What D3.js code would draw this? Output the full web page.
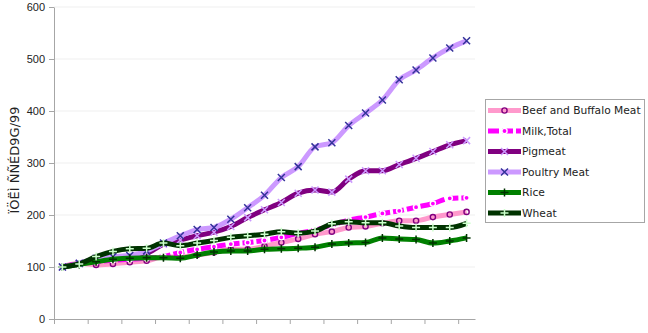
<!DOCTYPE html>
<html>
<head>
<meta charset="utf-8">
<script src="https://cdn.jsdelivr.net/npm/d3@7"></script>
<style>
  body { margin: 0; background: #fff; }
  svg { display: block; font-family: 'DejaVu Sans', sans-serif; }
  .axis path, .axis line { stroke: #a6a6a6; }
  .axis text { fill: #222; font-size: 11px; }
</style>
</head>
<body>
<script>
const width = 648;
const height = 333;

const categories = d3.range(1, 26);
const yTicks = [0, 100, 200, 300, 400, 500, 600];

const beef = [100, 107, 104, 106, 109, 112, 119, 119, 123, 128, 134, 134, 140, 147, 154, 163, 168, 176, 178, 184, 189, 189, 196, 201, 206];
const milk = [100, 107, 110, 113, 115, 117, 120, 128, 134, 139, 144, 147, 151, 157, 165, 171, 181, 190, 196, 203, 208, 215, 222, 232, 233];
const pigmeat = [100, 107, 115, 117, 118, 126, 144, 152, 160, 167, 178, 195, 210, 224, 242, 248, 244, 269, 285, 285, 297, 309, 322, 335, 343];
const poultry = [100, 107, 117, 120, 122, 131, 146, 160, 172, 176, 192, 214, 238, 272, 293, 331, 339, 372, 396, 421, 460, 479, 502, 521, 535];
const rice = [100, 105, 110, 115, 117, 118, 118, 117, 123, 129, 131, 131, 134, 135, 136, 138, 144, 146, 147, 156, 154, 153, 146, 150, 156];
const wheat = [100, 106, 120, 130, 135, 136, 146, 141, 146, 151, 157, 160, 163, 168, 165, 169, 183, 187, 185, 185, 179, 176, 176, 176, 184];

const series = [
  { name: 'Beef and Buffalo Meat', values: beef, line: '#ff99cc', dash: null, marker: 'circle', mfill: 'none', mstroke: '#800080' },
  { name: 'Milk,Total', values: milk, line: '#ff00ff', dash: '11,3', marker: 'circle', mfill: '#ff00ff', mstroke: '#ffffff' },
  { name: 'Pigmeat', values: pigmeat, line: '#800080', dash: null, marker: 'x', mstroke: '#cc99ff' },
  { name: 'Poultry Meat', values: poultry, line: '#cc99ff', dash: null, marker: 'x', mstroke: '#333399' },
  { name: 'Rice', values: rice, line: '#008000', dash: null, marker: 'plus', mstroke: '#003300' },
  { name: 'Wheat', values: wheat, line: '#003300', dash: null, marker: 'plus', mstroke: '#ccffcc' },
];

const svg = d3.select('body')
  .append('svg')
    .attr('width', width)
    .attr('height', height);

const x = d3.scaleBand()
  .domain(categories)
  .range([54, 475])
  .padding(0);

const xIdx = d3.scaleLinear()
  .domain([0, categories.length])
  .range([54, 475]);

const y = d3.scaleLinear()
  .domain([0, 600])
  .range([319, 7]);

const cx = (i) => x(categories[i]) + x.bandwidth() / 2;

// grid
svg.append('g')
  .selectAll('line')
  .data(yTicks.slice(1))
  .join('line')
    .attr('x1', 54)
    .attr('x2', 475)
    .attr('y1', (d) => y(d))
    .attr('y2', (d) => y(d))
    .attr('stroke', '#efefef');

svg.append('g')
  .attr('class', 'axis')
  .attr('transform', 'translate(54,0)')
  .call(d3.axisLeft(y).tickValues(yTicks).tickSize(5).tickPadding(4).tickSizeOuter(0));

svg.append('g')
  .attr('class', 'axis')
  .attr('transform', 'translate(0,319)')
  .call(d3.axisBottom(xIdx).tickValues(d3.range(0, 25, 2)).tickSize(5).tickFormat('').tickSizeOuter(0));

svg.append('text')
  .attr('transform', 'translate(19,160) rotate(-90)')
  .attr('text-anchor', 'middle')
  .attr('font-size', 13)
  .attr('fill', '#222')
  .text('ÏÖËÌ ÑÑÉD9G/99');

const drawMarker = (g, s, px, py) => {
  if (s.marker === 'circle') {
    g.append('circle')
      .attr('cx', px).attr('cy', py).attr('r', 2.6)
      .attr('fill', s.mfill)
      .attr('stroke', s.mstroke)
      .attr('stroke-width', 1.4);
  } else if (s.marker === 'x') {
    g.append('path')
      .attr('d', `M${px - 3.5},${py - 3.5}L${px + 3.5},${py + 3.5}M${px - 3.5},${py + 3.5}L${px + 3.5},${py - 3.5}`)
      .attr('stroke', s.mstroke)
      .attr('stroke-width', 1.5);
  } else {
    g.append('path')
      .attr('d', `M${px - 4},${py}L${px + 4},${py}M${px},${py - 4}L${px},${py + 4}`)
      .attr('stroke', s.mstroke)
      .attr('stroke-width', 1.5);
  }
};

const line = d3.line()
  .x((d, i) => cx(i))
  .y((d) => y(d))
  .curve(d3.curveMonotoneX);

const plot = svg.append('g');

series.forEach((s) => {
  const g = plot.append('g');
  g.append('path')
    .datum(s.values)
    .attr('d', line)
    .attr('fill', 'none')
    .attr('stroke', s.line)
    .attr('stroke-width', 5)
    .attr('stroke-dasharray', s.dash);
  s.values.forEach((v, i) => drawMarker(g, s, cx(i), y(v)));
});

// legend
const legend = svg.append('g');

legend.append('rect')
  .attr('x', 485.5)
  .attr('y', 99.5)
  .attr('width', 159)
  .attr('height', 123)
  .attr('fill', '#fff')
  .attr('stroke', '#a6a6a6');

series.forEach((s, i) => {
  const ly = 110.5 + i * 20.5;
  const g = legend.append('g');
  g.append('line')
    .attr('x1', 488).attr('x2', 521)
    .attr('y1', ly).attr('y2', ly)
    .attr('stroke', s.line)
    .attr('stroke-width', 5)
    .attr('stroke-dasharray', s.dash);
  drawMarker(g, s, 504.5, ly);
  g.append('text')
    .attr('x', 522)
    .attr('y', ly)
    .attr('dy', '0.35em')
    .attr('font-size', 10.7)
    .attr('fill', '#222')
    .text(s.name);
});
</script>
</body>
</html>
